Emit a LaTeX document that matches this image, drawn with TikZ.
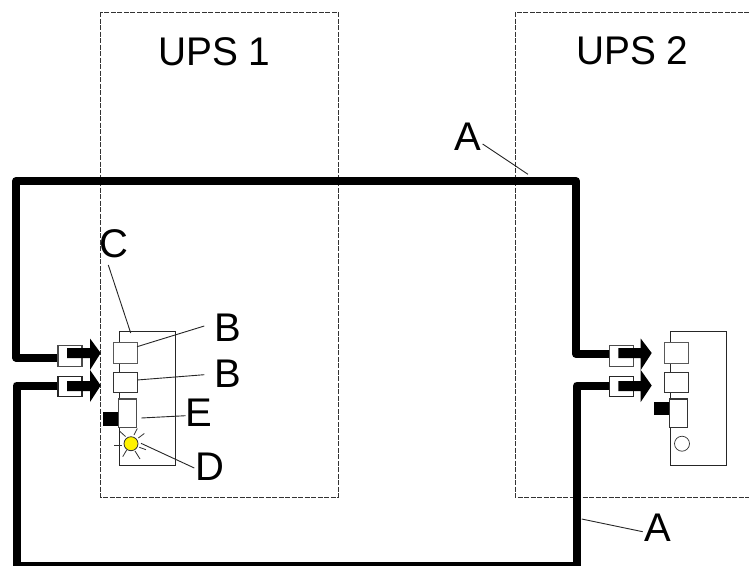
\documentclass[tikz,border=0pt]{standalone}
\usepackage{fontspec}
\setmainfont{Liberation Sans}
\tikzset{
  x=1pt,y=-1pt,
  upsbox/.style={draw=black!80,line width=0.9pt,dash pattern=on 5pt off 1.5pt},
  cable/.style={line width=8pt,line join=round,line cap=butt},
  lead/.style={draw=black!85,line width=0.9pt},
  ray/.style={draw=black!80,line width=0.8pt},
  lbl/.style={font=\fontsize{40}{40}\selectfont,inner sep=0pt},
  arrowshape/.style={fill=black,draw=none},
  devicebody/.style={draw=black!85,line width=0.9pt},
}
\newcommand{\boxat}[6]{\node[draw=black!#6,line width=1.1pt,fill=white,inner sep=0pt,outer sep=0pt,minimum width=#3pt,minimum height=#4pt] (#5) at (#1,#2) {};}
\begin{document}
\begin{tikzpicture}
\useasboundingbox (0,0) rectangle (749,565);
% UPS enclosures
\draw[upsbox] (749,12) -- (515,12) -- (515,497) -- (749,497);
\draw[upsbox] (100.5,12) rectangle (338,497);
% cables
\coordinate (pa) at (60,357.5);
\coordinate (pb) at (16,181);
\coordinate (pc) at (576,181);
\coordinate (pd) at (612,354);
\coordinate (qa) at (60,385.5);
\coordinate (qb) at (16.5,565.5);
\coordinate (qc) at (577,565.5);
\coordinate (qd) at (612,385.5);
\draw[cable] (pa) -| (pb) -- (pc) |- (pd);
\draw[cable] (qa) -| (qb) -- (qc) |- (qd);
% left plugs
\boxat{70}{356}{24}{20.5}{pl1}{70}
\boxat{70}{386.5}{24}{20.5}{pl2}{85}
\fill[arrowshape] (67,348) -- (90,348) -- (90,338.5) -- (100.7,353) -- (90,370) -- (90,358) -- (67,358) -- cycle;
\fill[arrowshape] (67,381) -- (90,381) -- (90,370) -- (100.7,385.5) -- (90,402) -- (90,391) -- (67,391) -- cycle;
% right plugs
\boxat{621.3}{356}{24}{20.5}{pr1}{70}
\boxat{621.3}{386.5}{24}{20.5}{pr2}{85}
\fill[arrowshape] (618.3,348) -- (640.7,348) -- (640.7,338.5) -- (651.7,353) -- (640.7,370) -- (640.7,358) -- (618.3,358) -- cycle;
\fill[arrowshape] (618.3,381) -- (640.7,381) -- (640.7,370) -- (651.7,385.5) -- (640.7,402) -- (640.7,391) -- (618.3,391) -- cycle;
% device UPS 1
\draw[devicebody] (119.5,331.7) rectangle (175.5,465);
\boxat{125.3}{353}{23.5}{20.5}{b1}{65}
\boxat{125.3}{382.5}{23.5}{20.5}{b2}{80}
\fill (103.3,412.3) rectangle (118.7,426);
\boxat{127.5}{413.3}{18.4}{28.7}{e1}{70}
% LED
\node[circle,draw=black!80,fill=yellow,line width=0.8pt,minimum size=14pt,inner sep=0pt] (led) at (131,443.7) {};
\draw[ray] (120,431.5) -- (125.5,436.5);
\draw[ray] (137.3,428.5) -- (134,435);
\draw[ray] (144.3,433.5) -- (138.3,438);
\draw[ray] (114.3,445) -- (122,445);
\draw[ray] (126.7,450) -- (122.7,456.7);
\draw[ray] (135,451) -- (140,459);
\draw[ray] (139.3,447.3) -- (146,449.7);
% device UPS 2
\draw[devicebody] (670.7,331.7) rectangle (726.3,465);
\boxat{676.3}{353}{24}{20.5}{b3}{65}
\boxat{676.3}{382.5}{24}{20.5}{b4}{80}
\fill (654.3,401.7) rectangle (670,415.3);
\boxat{678.3}{413.3}{18}{28.7}{e2}{80}
\node[circle,draw=black!80,fill=white,line width=0.7pt,minimum size=15pt,inner sep=0pt] (led2) at (682,443.7) {};
% labels
\node[lbl,xscale=.97] (ups1) at (214.5,52) {UPS 1};
\node[lbl,xscale=.97] (ups2) at (632.5,50.5) {UPS 2};
\node[lbl] (a1) at (468,137) {A};
\node[lbl] (a2) at (657.5,528) {A};
\node[lbl] (c) at (114,243.5) {C};
\node[lbl] (bl1) at (228,327.5) {B};
\node[lbl] (bl2) at (228,374) {B};
\node[lbl] (el) at (199,413) {E};
\node[lbl] (dl) at (210,467) {D};
% leaders
\draw[lead] (482.6,144) -- (528,174.3);
\draw[lead] (581.7,519) -- (642.7,531.7);
\draw[lead] (108.3,265) -- (130.7,333);
\draw[lead] (b1.east |- 0,346.7) -- (204.3,326);
\draw[lead] (b2.east |- 0,380) -- (204.3,374.7);
\draw[lead] (141.3,418) -- (185.7,415.7);
\draw[lead] (141,443.3) -- (194.3,468);
\end{tikzpicture}
\end{document}
